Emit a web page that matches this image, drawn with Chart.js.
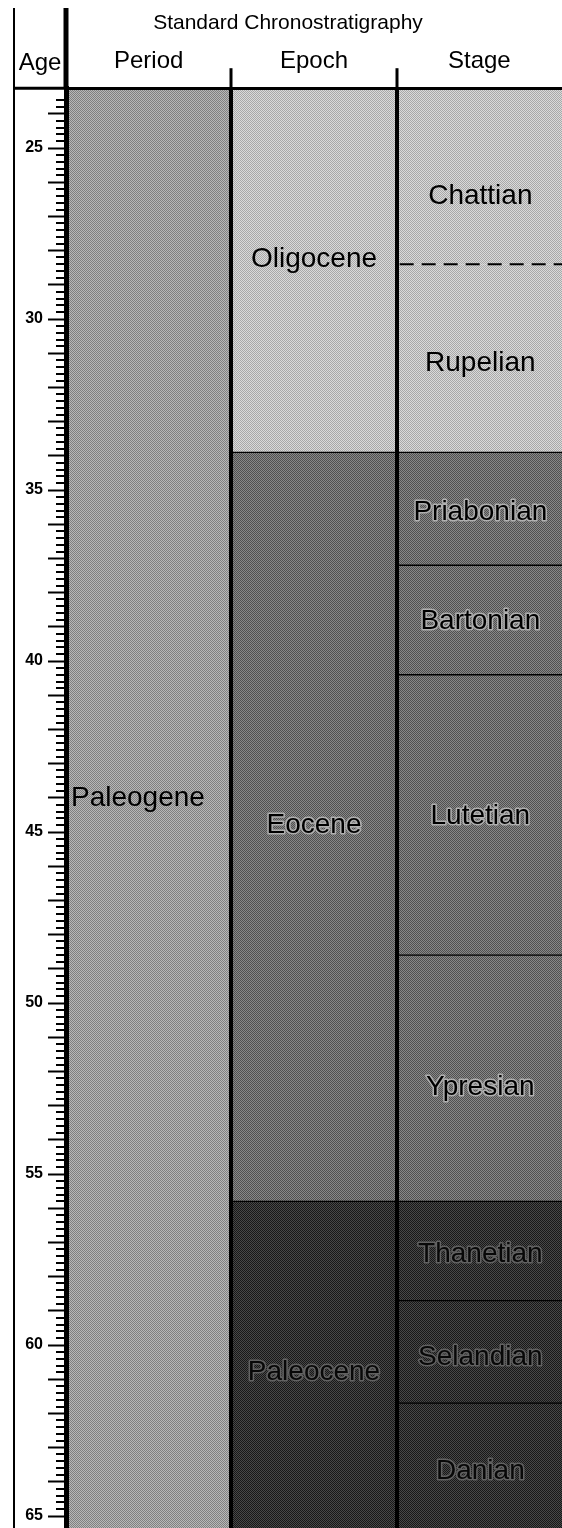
<!DOCTYPE html>
<html lang="en">
<head>
  <meta charset="UTF-8">
  <title>Standard Chronostratigraphy</title>
  <script src="https://cdn.jsdelivr.net/npm/chart.js"></script>
  <style>
    body {
      margin: 0;
      background: #fff;
    }
    canvas {
      display: block;
    }
  </style>
</head>
<body>
  <canvas id="chrono" width="562" height="1528"></canvas>
  <script>
    // columns of the chart and the age axis (Ma)
    const columns = ["Period", "Epoch", "Stage"];
    const ageLabels = [25, 30, 35, 40, 45, 50, 55, 60, 65];
    const ageMin = 23.25;
    const ageMax = 65.35;

    const periodNames = ["Paleogene"];
    const periodTop = [23.03];
    const periodBase = [65.5];
    const periodLabelAt = [44.0];

    const epochNames = ["Oligocene", "Eocene", "Paleocene"];
    const epochTop = [23.03, 33.9, 55.8];
    const epochBase = [33.9, 55.8, 65.5];
    const epochLabelAt = [28.25, 44.8, 60.8];

    const stageNames = ["Chattian", "Rupelian", "Priabonian", "Bartonian", "Lutetian",
                        "Ypresian", "Thanetian", "Selandian", "Danian"];
    const stageTop = [23.03, 28.4, 33.9, 37.2, 40.4, 48.6, 55.8, 58.7, 61.7];
    const stageBase = [28.4, 33.9, 37.2, 40.4, 48.6, 55.8, 58.7, 61.7, 65.5];
    const stageEpoch = ["Oligocene", "Oligocene", "Eocene", "Eocene", "Eocene",
                        "Eocene", "Paleocene", "Paleocene", "Paleocene"];
    const stageLabelAt = [26.4, 31.3, 35.65, 38.85, 44.55, 52.45, 57.35, 60.35, 63.7];

    // boundaries drawn dashed instead of solid
    const dashedBoundaries = [28.4];

    const canvas = document.getElementById("chrono");
    const ctx2d = canvas.getContext("2d");

    // scanned look: 1px checker of two greys
    function dither(dark, light) {
      const c = document.createElement("canvas");
      c.width = 2;
      c.height = 2;
      const g = c.getContext("2d");
      g.fillStyle = light;
      g.fillRect(0, 0, 2, 2);
      g.fillStyle = dark;
      g.fillRect(0, 0, 1, 1);
      g.fillRect(1, 1, 1, 1);
      return ctx2d.createPattern(c, "repeat");
    }

    const fills = {
      Paleogene: dither("#808080", "#b8b8b8"),
      Oligocene: dither("#a8a8a8", "#dadada"),
      Eocene: dither("#505050", "#888888"),
      Paleocene: dither("#181818", "#484848")
    };
    const halos = { Paleogene: null, Oligocene: null, Eocene: "#b0b0b0", Paleocene: "#626262" };

    function units(col, tops, bases) {
      return tops.map((t, i) => ({ x: col, y: [t, bases[i]] }));
    }

    function borders(ctx) {
      const [a, b] = ctx.raw.y;
      return {
        top: dashedBoundaries.includes(a) ? 0 : 1,
        bottom: dashedBoundaries.includes(b) ? 0 : 1,
        left: 0,
        right: 0
      };
    }

    const barStyle = {
      grouped: false,
      barPercentage: 1,
      categoryPercentage: 1,
      borderColor: "#000",
      borderSkipped: false,
      borderWidth: borders
    };

    const fontFamily = "'Liberation Sans', Arial, Helvetica, sans-serif";
    const isWhole = v => Math.abs(v - Math.round(v)) < 1e-6;

    // labels, minor ticks, dashed boundaries and the left frame of the header
    const chronoLabels = {
      id: "chronoLabels",
      afterDraw(chart) {
        const ctx = chart.ctx;
        const xs = chart.scales.x;
        const ys = chart.scales.y;
        const area = chart.chartArea;
        const half = (xs.getPixelForTick(1) - xs.getPixelForTick(0)) / 2;
        const headerY = area.top;

        ctx.save();
        ctx.strokeStyle = "#000";
        ctx.lineWidth = 2;
        ctx.beginPath();
        ctx.moveTo(14, 8);
        ctx.lineTo(14, chart.height);
        ctx.stroke();
        ctx.lineWidth = 5;
        ctx.beginPath();
        ctx.moveTo(area.left, 8);
        ctx.lineTo(area.left, headerY);
        ctx.stroke();
        ctx.lineWidth = 3;
        ctx.beginPath();
        ctx.moveTo(14, headerY);
        ctx.lineTo(area.left, headerY);
        ctx.stroke();

        // short ticks every 0.2 Ma
        ctx.lineWidth = 2;
        ys.ticks.forEach(t => {
          if (isWhole(t.value)) return;
          const y = Math.round(ys.getPixelForValue(t.value));
          ctx.beginPath();
          ctx.moveTo(area.left - 10, y);
          ctx.lineTo(area.left - 2, y);
          ctx.stroke();
        });

        ctx.fillStyle = "#000";
        ctx.font = "24px " + fontFamily;
        ctx.textAlign = "center";
        ctx.textBaseline = "middle";
        ctx.fillText("Age", (14 + area.left) / 2, 63);

        // dashed stage boundary
        const sx = xs.getPixelForValue(2);
        ctx.setLineDash([14, 8]);
        ctx.lineWidth = 2;
        dashedBoundaries.forEach(age => {
          const y = ys.getPixelForValue(age);
          ctx.beginPath();
          ctx.moveTo(sx - half + 3, y);
          ctx.lineTo(sx + half, y);
          ctx.stroke();
        });
        ctx.setLineDash([]);

        ctx.font = "28px " + fontFamily;
        ctx.lineJoin = "round";
        function put(text, x, age, tone, align) {
          const y = ys.getPixelForValue(age);
          ctx.textAlign = align;
          if (halos[tone]) {
            ctx.strokeStyle = halos[tone];
            ctx.lineWidth = 3;
            ctx.strokeText(text, x, y);
          }
          ctx.fillStyle = tone === "Paleocene" ? "#080808" : "#000";
          ctx.fillText(text, x, y);
        }
        periodNames.forEach((n, i) => put(n, xs.getPixelForValue(0) - half + 5, periodLabelAt[i], "Paleogene", "left"));
        epochNames.forEach((n, i) => put(n, xs.getPixelForValue(1), epochLabelAt[i], n, "center"));
        stageNames.forEach((n, i) => put(n, sx + 1, stageLabelAt[i], stageEpoch[i], "center"));
        ctx.restore();
      }
    };

    new Chart(canvas, {
      type: "bar",
      data: {
        labels: columns,
        datasets: [
          {
            label: "Period",
            data: units("Period", periodTop, periodBase),
            backgroundColor: fills.Paleogene,
            ...barStyle
          },
          {
            label: "Epoch",
            data: units("Epoch", epochTop, epochBase),
            backgroundColor: ctx => fills[epochNames[ctx.dataIndex]],
            ...barStyle
          },
          {
            label: "Stage",
            data: units("Stage", stageTop, stageBase),
            backgroundColor: ctx => fills[stageEpoch[ctx.dataIndex]],
            ...barStyle
          }
        ]
      },
      options: {
        responsive: false,
        animation: false,
        layout: { padding: { left: 14, top: 0, right: 0, bottom: 0 } },
        plugins: {
          legend: { display: false },
          tooltip: { enabled: false },
          title: {
            display: true,
            text: "Standard Chronostratigraphy",
            color: "#000",
            font: { family: fontFamily, size: 21, weight: "normal" },
            padding: { top: 11, bottom: 6 }
          }
        },
        scales: {
          x: {
            position: "top",
            offset: true,
            afterFit: s => {
              s.height = 46;
              s.paddingLeft = 0;
              s.paddingRight = 0;
            },
            ticks: {
              color: "#000",
              font: { family: fontFamily, size: 24 },
              padding: -8,
              maxRotation: 0
            },
            grid: {
              offset: true,
              z: 1,
              color: ctx => ctx.index === undefined ? "rgba(0,0,0,0)" : "#000",
              lineWidth: 4,
              tickLength: 20,
              tickWidth: 3,
              tickColor: ctx => ctx.index === undefined ? "rgba(0,0,0,0)" : "#000"
            },
            border: { display: true, color: "#000", width: 3, z: 1 }
          },
          y: {
            position: "left",
            reverse: true,
            min: ageMin,
            max: ageMax,
            afterFit: s => {
              s.width = 52;
              s.paddingTop = 0;
              s.paddingBottom = 0;
            },
            afterBuildTicks: s => {
              s.ticks = s.ticks.filter(t => Math.abs(t.value * 5 - Math.round(t.value * 5)) < 1e-6);
            },
            ticks: {
              stepSize: 0.2,
              autoSkip: false,
              padding: 5,
              color: "#000",
              font: { family: fontFamily, size: 16, weight: "bold" },
              callback: v => {
                const r = Math.round(v);
                return isWhole(v) && ageLabels.includes(r) ? String(r) : "";
              }
            },
            grid: {
              drawOnChartArea: false,
              tickLength: 18,
              tickWidth: 2,
              tickColor: ctx => ctx.tick && isWhole(ctx.tick.value) ? "#000" : "rgba(0,0,0,0)"
            },
            border: { display: true, color: "#000", width: 5, z: 1 }
          }
        }
      },
      plugins: [chronoLabels]
    });
  </script>
</body>
</html>
